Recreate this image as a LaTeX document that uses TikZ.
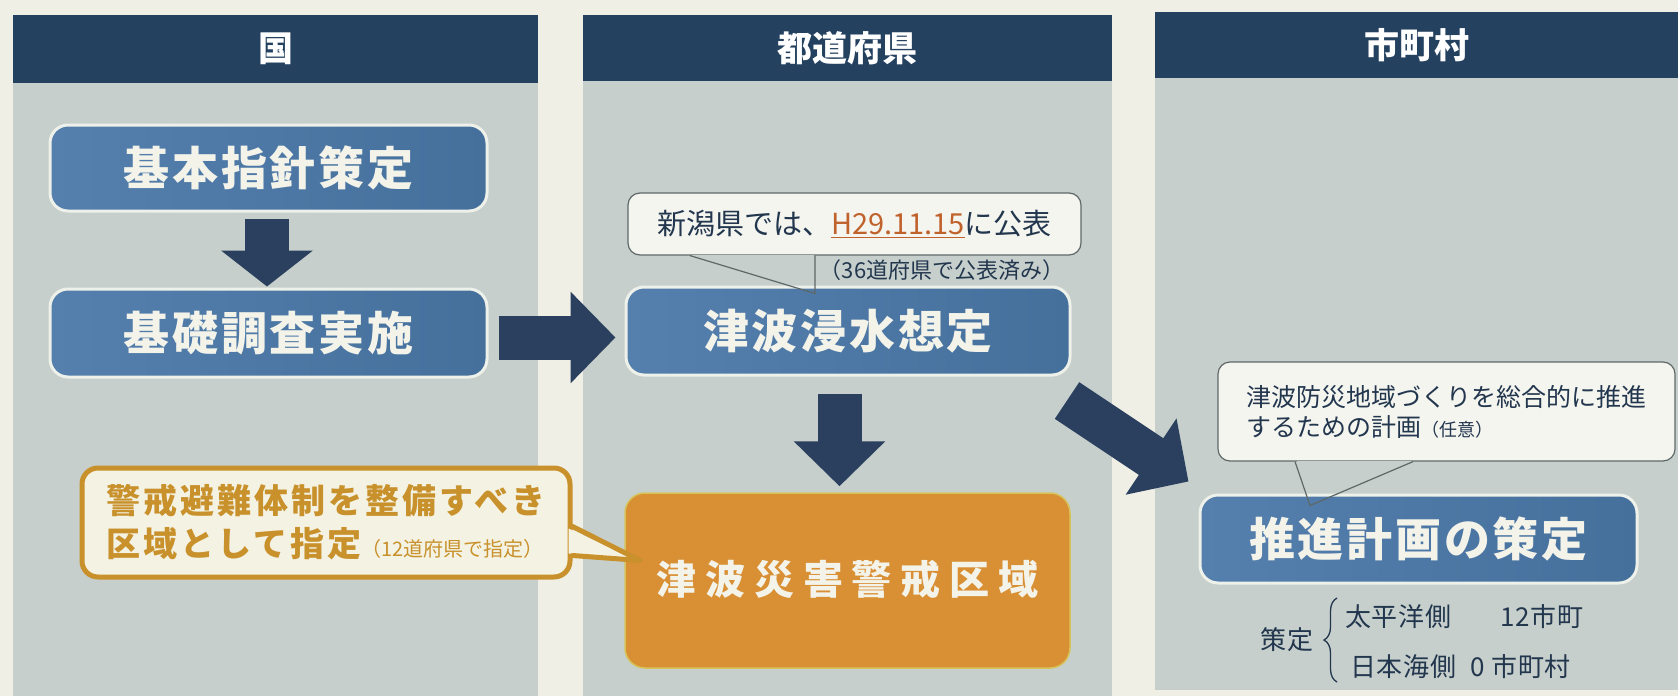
\documentclass[tikz,border=0pt]{standalone}
\usepackage{fontspec}
\setmainfont{Noto Sans CJK JP}
\usetikzlibrary{arrows.meta,calc,decorations.pathreplacing}
\definecolor{bgc}{HTML}{EFEFE6}
\definecolor{panelc}{HTML}{C6CFCB}
\definecolor{headc}{HTML}{24415F}
\definecolor{boxl}{HTML}{5580AE}
\definecolor{boxr}{HTML}{45709C}
\definecolor{boxedge}{HTML}{EEF0EA}
\definecolor{arrowc}{HTML}{2A405E}
\definecolor{orangec}{HTML}{D98F33}
\definecolor{orangeedge}{HTML}{D6C45A}
\definecolor{goldc}{HTML}{C8912C}
\definecolor{creamc}{HTML}{F4F2E2}
\definecolor{calloutc}{HTML}{F5F5EF}
\definecolor{calloutedge}{HTML}{5E6868}
\definecolor{navytext}{HTML}{22364E}
\definecolor{datec}{HTML}{C0622C}
\definecolor{boxtext}{HTML}{F3F3EA}
\tikzset{
  headbar/.style={fill=headc},
  panel/.style={fill=panelc},
  headtext/.style={text=white, inner sep=0pt, font=\fontsize{35}{40}\selectfont\bfseries},
  bluebox/.style={rounded corners=18pt, left color=boxl, right color=boxr, draw=boxedge,
    line width=3pt, text=boxtext, inner sep=0pt,
    font=\fontsize{46}{52}\selectfont\bfseries\addfontfeatures{LetterSpace=6}},
  orangebox/.style={rounded corners=20pt, fill=orangec, draw=orangeedge, line width=1.5pt,
    text=boxtext, inner sep=0pt,
    font=\fontsize{40}{46}\selectfont\bfseries\addfontfeatures{LetterSpace=22}},
  callout/.style={rounded corners=12pt, fill=calloutc, draw=calloutedge, line width=1.2pt,
    text=navytext, inner sep=0pt, font=\fontsize{29}{32}\selectfont},
  ycallout/.style={rounded corners=16pt, fill=creamc, draw=goldc, line width=5pt,
    text=goldc, inner sep=0pt,
    font=\fontsize{34}{43}\selectfont\bfseries\addfontfeatures{LetterSpace=9}},
  tailline/.style={draw=calloutedge, line width=1.2pt},
  bigarrow/.style={draw=arrowc, line width=44pt, -{Triangle[length=45pt,width=89pt]}},
  navysmall/.style={text=navytext, inner sep=0pt, font=\fontsize{26}{30}\selectfont\addfontfeatures{LetterSpace=3}},
}
\begin{document}
\begin{tikzpicture}[x=1pt,y=-1pt]
\useasboundingbox (0,0) rectangle (1678,696);
\fill[bgc] (0,0) rectangle (1678,696);
% panels
\fill[panel] (13,83) rectangle (538,696);
\fill[headbar] (13,15) rectangle (538,83);
\fill[panel] (583,81) rectangle (1112,696);
\fill[headbar] (583,15) rectangle (1112,81);
\fill[panel] (1155,78) rectangle (1678,690);
\fill[headbar] (1155,12) rectangle (1678,78);
\node[headtext] (h1) at (275.5,49) {国};
\node[headtext] (h2) at (847.5,48) {都道府県};
\node[headtext] (h3) at (1416.5,45) {市町村};
% boxes
\node[bluebox, minimum width=437pt, minimum height=86pt] (A) at (268.5,168) {基本指針策定};
\node[bluebox, minimum width=437pt, minimum height=88pt] (B) at (268.5,333) {基礎調査実施};
\node[bluebox, minimum width=444pt, minimum height=88pt] (C) at (848,331) {津波浸水想定};
\node[orangebox, minimum width=445pt, minimum height=175pt] (D) at (847.5,580.5) {\raisebox{7pt}{津波災害警戒区域}};
\node[bluebox, minimum width=437pt, minimum height=88pt] (E) at (1418.5,539) {推進計画の策定};
% arrows
\draw[bigarrow, -{Triangle[length=36pt,width=90pt]}] ($(A.south)+(-1.5,6)$) -- ($(B.north)+(-1.5,-1)$);
\draw[bigarrow] ($(B.east)+(10,4.5)$) -- ($(C.west)+(-9,6.5)$);
\draw[bigarrow] ($(C.south)+(-8.5,17)$) -- ($(D.north)+(-8,-6)$);
\draw[bigarrow] ($(C.south east)+(-4.5,24)$) -- ($(E.north west)+(-10,-12)$);
% callout 1
\node[callout, minimum width=453pt, minimum height=62pt] (N1) at (854.5,224)
  {新潟県では、{\color{datec}\underline{H29.11.15}}に公表};
\draw[panelc, line width=2pt] ($(N1.south)+(-163,0)$) -- ($(N1.south)+(-41,0)$);
\draw[tailline] ($(N1.south)+(-164.5,0)$) -- ($(C.north)+(-33,8)$) -- ($(N1.south)+(-39.5,0)$);
\node[text=navytext, inner sep=0pt, font=\fontsize{22}{24}\selectfont] (P1) at (942,270) {（36道府県で公表済み）};
% yellow callout
\node[ycallout, minimum width=488pt, minimum height=109pt, align=left] (Y) at (326,522.5)
  {警戒避難体制を整備すべき\\区域として指定{\fontsize{20}{20}\selectfont\mdseries\addfontfeatures{LetterSpace=0} （12道府県で指定）}};
\fill[creamc] ($(Y.east)+(-4,6)$) -- ($(D.west)+(16,-20)$) -- ($(Y.east)+(-4,31)$) -- cycle;
\draw[goldc, line width=5pt, line join=round, line cap=round] ($(Y.east)+(0,4)$) -- ($(D.west)+(16,-20)$) -- ($(Y.east)+(0,33)$);
% callout 3
\node[callout, minimum width=457pt, minimum height=99pt, align=left, font=\fontsize{25}{30}\selectfont] (R) at (1446.5,411.5)
  {津波防災地域づくりを総合的に推進\\するための計画{\fontsize{18}{18}\selectfont （任意）}};
\draw[panelc, line width=2pt] ($(R.south)+(-150,0)$) -- ($(R.south)+(-35,0)$);
\draw[tailline] ($(R.south)+(-151.5,0)$) -- ($(E.north)+(-108.5,12)$) -- ($(R.south)+(-33.5,0)$);
% bottom figures
\node[navysmall] (S0) at (1287,640) {策定};
\coordinate (br1) at (1337,682);
\coordinate (br2) at (1337,598);
\draw[navytext, line width=1.3pt, decorate, decoration={brace, amplitude=13pt}] (br1) -- (br2);
\node[navysmall, anchor=west] (S1) at (1345,617) {太平洋側};
\node[navysmall, anchor=west] (S2) at (1500,617) {12市町};
\node[navysmall, anchor=west] (S3) at (1350,667) {日本海側};
\node[navysmall, anchor=west] (S4) at (1470,667) {0 市町村};
\end{tikzpicture}
\end{document}
